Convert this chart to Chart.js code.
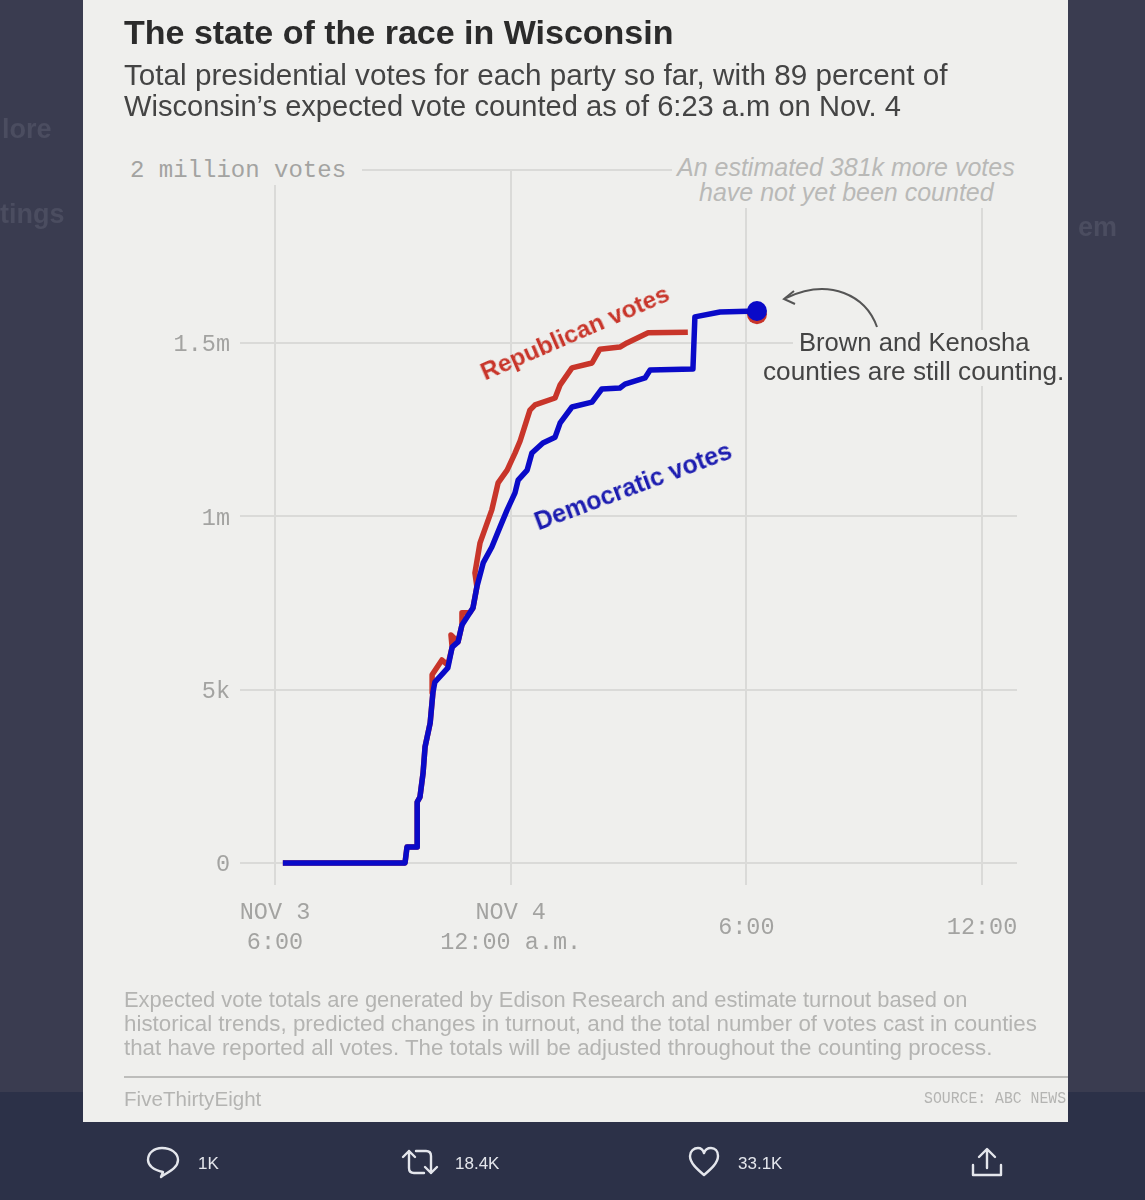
<!DOCTYPE html>
<html>
<head>
<meta charset="utf-8">
<script src="https://cdn.jsdelivr.net/npm/chart.js@4"></script>
<style>
  html, body { margin: 0; padding: 0; background: #3a3c50; }
  #page { position: relative; width: 1145px; height: 1200px; overflow: hidden; font-family: "Liberation Sans", sans-serif; filter: blur(0.5px); }
  #band { position: absolute; left: 0; top: 1092px; width: 1145px; height: 108px; background: #2c3148; }
  #card { position: absolute; left: 83px; top: 0; width: 985px; height: 1122px; background: #efefed; }
  canvas { position: absolute; left: 0; top: 0; }
  .t { position: absolute; white-space: nowrap; line-height: 1; }
  .halo { background: #efefed; }
  .mono { font-family: "Liberation Mono", monospace; color: #a3a3a1; }
  .ghost { color: #4b4d60; font-weight: bold; font-size: 27px; }
  .foot { color: #b4b4b2; font-size: 22px; }
  .stat { color: #e4e6ec; font-size: 17px; }
  svg { position: absolute; left: 0; top: 0; }
</style>
</head>
<body>
<div id="page">
  <div id="band"></div>
  <div class="t ghost" style="left:2px;top:116px">lore</div>
  <div class="t ghost" style="left:0;top:201px">tings</div>
  <div class="t ghost" style="left:1078px;top:214px">em</div>
  <div id="card"></div>
  <canvas id="chart" width="1145" height="1200"></canvas>

  <div class="t" style="left:124px;top:15px;font-size:34px;font-weight:bold;color:#2b2b2b">The state of the race in Wisconsin</div>
  <div class="t" style="left:124px;top:60px;font-size:29.7px;color:#444">Total presidential votes for each party so far, with 89 percent of</div>
  <div class="t" style="left:124px;top:92px;font-size:29.1px;color:#444">Wisconsin’s expected vote counted as of 6:23 a.m on Nov. 4</div>

  <div class="t mono halo" style="left:130px;top:157px;font-size:24px;padding:2px 16px 2px 0;">2 million votes</div>
  <div class="halo" style="position:absolute;left:672px;top:152px;width:348px;height:56px"></div>
  <div class="t" style="left:677px;top:155px;font-size:25px;font-style:italic;color:#b9b9b7">An estimated 381k more votes</div>
  <div class="t" style="left:699px;top:180px;font-size:25px;font-style:italic;color:#b9b9b7">have not yet been counted</div>

  <div class="t" style="left:575px;top:333px;font-size:24.5px;font-weight:bold;color:#c8352a;transform:translate(-50%,-50%) rotate(-23.5deg)">Republican votes</div>
  <div class="t" style="left:633px;top:486px;font-size:25px;font-weight:bold;color:#1c1cb0;transform:translate(-50%,-50%) rotate(-20.5deg)">Democratic votes</div>

  <div class="halo" style="position:absolute;left:793px;top:330px;width:244px;height:28px"></div>
  <div class="halo" style="position:absolute;left:760px;top:358px;width:308px;height:28px"></div>
  <div class="t" style="left:799px;top:330px;font-size:25.6px;color:#444">Brown and Kenosha</div>
  <div class="t" style="left:763px;top:358px;font-size:26.2px;color:#444">counties are still counting.</div>

  <div class="t foot" style="left:124px;top:989px;font-size:21.9px">Expected vote totals are generated by Edison Research and estimate turnout based on</div>
  <div class="t foot" style="left:124px;top:1013px;font-size:22.35px">historical trends, predicted changes in turnout, and the total number of votes cast in counties</div>
  <div class="t foot" style="left:124px;top:1037px;font-size:22.3px">that have reported all votes. The totals will be adjusted throughout the counting process.</div>
  <div style="position:absolute;left:124px;top:1076px;width:944px;height:2px;background:#bdbdbb"></div>
  <div class="t foot" style="left:124px;top:1089px;font-size:20.6px;">FiveThirtyEight</div>
  <div class="t foot" style="left:924px;top:1090px;font-size:17px;font-family:'Liberation Mono',monospace;transform-origin:left top;transform:scaleX(0.87)">SOURCE: ABC NEWS</div>

  <div class="t stat" style="left:198px;top:1155px">1K</div>
  <div class="t stat" style="left:455px;top:1155px">18.4K</div>
  <div class="t stat" style="left:738px;top:1155px">33.1K</div>

  <svg width="1145" height="1200" fill="none">
    <path d="M877 327 C866 296 830 277 786 298" stroke="#555" stroke-width="2"/>
    <path d="M794 291 L784 299 L795 304" stroke="#555" stroke-width="2"/>
    <g stroke="#e4e6ec" stroke-width="2.4" stroke-linecap="round" stroke-linejoin="round">
      <path d="M161 1177 L163 1172 C153 1170 148 1165 148 1160 C148 1153 154 1148 162 1148 C171 1148 178 1153 178 1160 C178 1168 168 1172 161 1177 Z"/>
      <path d="M409 1151 L409 1168 Q409 1173 414 1173 L424 1173 M403 1157 L409 1151 L415 1157"/>
      <path d="M431 1173 L431 1156 Q431 1151 426 1151 L416 1151 M425 1167 L431 1173 L437 1167"/>
      <path d="M704 1175 C697 1169 690 1163 690 1156 C690 1151 694 1148 698 1148 C701 1148 703 1150 704 1153 C705 1150 707 1148 711 1148 C715 1148 718 1151 718 1156 C718 1163 711 1169 704 1175 Z"/>
      <path d="M987 1168 L987 1150 M979 1157 L987 1149 L995 1157 M973 1165 L973 1175 L1001 1175 L1001 1165"/>
    </g>
  </svg>
</div>

<script>
// hours after 6 p.m. Nov 3, votes counted
const demHours = [0.20, 3.31, 3.36, 3.62, 3.62, 3.69, 3.77, 3.82, 3.95, 4.02, 4.07, 4.28, 4.40, 4.51, 4.66, 4.76, 4.96, 5.04, 5.14, 5.30, 5.52, 5.73, 5.91, 6.11, 6.19, 6.42, 6.54, 6.82, 7.13, 7.26, 7.56, 8.07, 8.32, 8.78, 8.91, 9.42, 9.55, 10.64, 10.69, 11.33, 12.27];
const demVotes = [0, 0, 46000, 46000, 176000, 190000, 260000, 335000, 404000, 491000, 522000, 548000, 563000, 623000, 638000, 687000, 722000, 736000, 797000, 866000, 912000, 970000, 1019000, 1068000, 1105000, 1134000, 1183000, 1212000, 1229000, 1270000, 1316000, 1330000, 1368000, 1371000, 1382000, 1400000, 1423000, 1426000, 1576000, 1590000, 1593000];

const repHours = [0.20, 3.31, 3.36, 3.62, 3.62, 3.69, 3.77, 3.82, 3.95, 4.02, 4.00, 4.25, 4.40, 4.51, 4.48, 4.66, 4.76, 4.76, 4.96, 5.04, 5.14, 5.09, 5.22, 5.52, 5.68, 5.91, 6.11, 6.24, 6.49, 6.62, 7.13, 7.26, 7.56, 8.07, 8.27, 8.78, 8.96, 9.50, 10.51, 11.00, 12.27];
const repVotes = [0, 0, 46000, 46000, 176000, 190000, 260000, 335000, 404000, 491000, 543000, 586000, 571000, 623000, 658000, 638000, 687000, 722000, 722000, 736000, 797000, 837000, 924000, 1019000, 1097000, 1134000, 1183000, 1218000, 1307000, 1322000, 1342000, 1380000, 1429000, 1443000, 1483000, 1489000, 1501000, 1530000, 1532000, null, 1584000];

const yTicks = [0, 500000, 1000000, 1500000, 2000000];
const yTickLabels = ['0', '5k', '1m', '1.5m', ''];
const xTicks = [0, 6, 12, 18];
const xTickLabels = [['NOV 3', '6:00'], ['NOV 4', '12:00 a.m.'], '6:00', '12:00'];

function toPoints(hours, votes) {
    return hours.map((h, i) => ({ x: h, y: votes[i] }));
}

// only the last point of a series gets a dot
function lastDot(ctx) {
    return ctx.dataIndex === ctx.dataset.data.length - 1 ? 10 : 0;
}

new Chart(document.getElementById('chart'), {
    type: 'line',
    data: {
        datasets: [
            { label: 'Republican votes', data: toPoints(repHours, repVotes), borderColor: '#c8352a', backgroundColor: '#c8352a', order: 2 },
            { label: 'Democratic votes', data: toPoints(demHours, demVotes), borderColor: '#0a0ac8', backgroundColor: '#0a0ac8', order: 1 }
        ]
    },
    options: {
        responsive: false,
        animation: false,
        spanGaps: false,
        layout: { padding: { left: 0, top: 170, right: 128, bottom: 235 } },
        elements: {
            line: { borderWidth: 5.5, tension: 0, borderJoinStyle: 'round', borderCapStyle: 'butt' },
            point: { radius: lastDot, borderWidth: 0, hoverRadius: lastDot }
        },
        plugins: { legend: { display: false }, tooltip: { enabled: false } },
        scales: {
            x: {
                type: 'linear',
                min: -0.891,
                max: 18.89,
                afterBuildTicks: axis => { axis.ticks = xTicks.map(v => ({ value: v })); },
                afterFit: axis => { axis.height = 80; },
                grid: { color: '#dadad8', lineWidth: 2, drawTicks: false },
                border: { display: false },
                ticks: {
                    autoSkip: false,
                    maxRotation: 0,
                    crossAlign: 'center',
                    padding: 28,
                    color: '#a3a3a1',
                    font: { family: '"Liberation Mono", monospace', size: 23.5, lineHeight: 1.28 },
                    callback: (v, i) => xTickLabels[i]
                }
            },
            y: {
                type: 'linear',
                min: -63500,
                max: 2000000,
                afterBuildTicks: axis => { axis.ticks = yTicks.map(v => ({ value: v })); },
                afterFit: axis => { axis.width = 240; },
                grid: { color: '#dadad8', lineWidth: 2, drawTicks: false },
                border: { display: false },
                ticks: {
                    padding: 10,
                    labelOffset: 2,
                    color: '#a3a3a1',
                    font: { family: '"Liberation Mono", monospace', size: 23.5 },
                    callback: (v, i) => yTickLabels[i]
                }
            }
        }
    }
});
</script>
</body>
</html>
